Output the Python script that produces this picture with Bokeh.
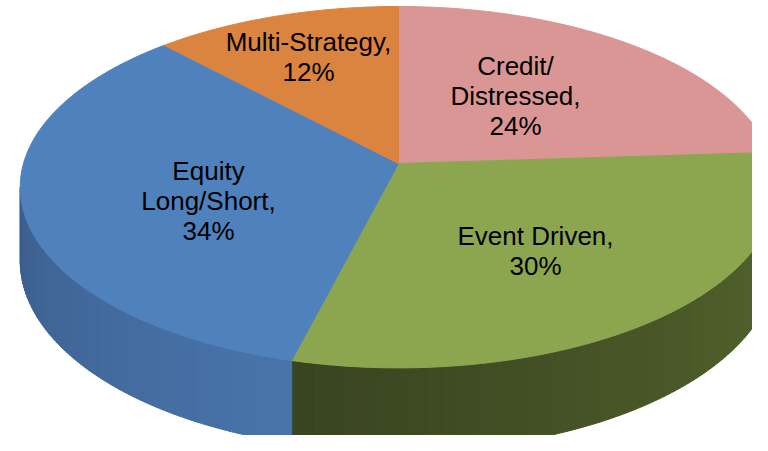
import numpy as np
from bokeh.plotting import figure
from bokeh.models import Range1d
from bokeh.embed import file_html
from bokeh.resources import INLINE
from bokeh.core.properties import value

# ---------------- data ----------------
categories = ["Credit/Distressed", "Event Driven", "Equity Long/Short", "Multi-Strategy"]
shares = [24, 30, 34, 12]
label_lines = [["Credit/", "Distressed,"], ["Event Driven,"], ["Equity", "Long/Short,"], ["Multi-Strategy,"]]

# ---------------- styles ----------------
top_colors = ["#d99694", "#8ca650", "#4f81bd", "#db843f"]
side_light = ["#b07472", "#56672e", "#4874ab", "#b06a33"]   # at the left end of a slice's side
side_dark = ["#8a5a58", "#394420", "#3c5e8c", "#8a5226"]    # at the right end

# label layout (centre x, first baseline y), in reference pixels
label_pos = [(515, 67), (535, 237), (208, 172), (308, 43)]
LINE_STEP = 30

# ---------------- 3D pie geometry ----------------
CX, CY = 398.0, 165.0
RX, RY = 375.0, 177.6
K = 0.131
DEPTH = 72.5


def proj(theta_deg, z=0.0):
    t = np.radians(theta_deg)
    u = np.sin(t)
    v = np.cos(t)
    s = 1.0 / (1.0 + K * v)
    return CX + RX * u * s, CY - RY * v * s + DEPTH * z * s


def mix(c1, c2, f):
    a = [int(c1[i:i + 2], 16) for i in (1, 3, 5)]
    b = [int(c2[i:i + 2], 16) for i in (1, 3, 5)]
    return "#%02x%02x%02x" % tuple(int(round(a[j] * (1 - f) + b[j] * f)) for j in range(3))


p = figure(width=752, height=435, x_range=Range1d(0, 752), y_range=Range1d(437, 2),
           output_backend="svg", toolbar_location=None, min_border=0)
p.axis.visible = False
p.grid.visible = False
p.outline_line_color = None
p.background_fill_color = "white"
p.border_fill_color = "white"

bounds = np.concatenate([[0], np.cumsum(shares)]) * 360.0 / sum(shares)
th_min = np.degrees(np.arccos(-K))
th_max = 360.0 - th_min

# side strips
sx, sy, sc = [], [], []
for i in range(len(shares)):
    a0, a1 = max(bounds[i], th_min), min(bounds[i + 1], th_max)
    if a1 <= a0:
        continue
    n = max(2, int(np.ceil((a1 - a0) / 1.0)))
    edges = np.linspace(a0, a1, n + 1)
    for j in range(n):
        t0, t1 = edges[j], edges[j + 1]
        ts = np.linspace(t0, t1, 3)
        xt, yt = proj(ts, 0.0)
        xb, yb = proj(ts[::-1], 1.0)
        sx.append(list(np.concatenate([xt, xb])))
        sy.append(list(np.concatenate([yt, yb])))
        f = (a1 - 0.5 * (t0 + t1)) / (a1 - a0)
        sc.append(mix(side_light[i], side_dark[i], 1 - f))
p.patches(sx, sy, fill_color=sc, line_color=sc, line_width=1)

# top faces
tx, ty = [], []
for i in range(len(shares)):
    ts = np.linspace(bounds[i], bounds[i + 1], int((bounds[i + 1] - bounds[i]) * 2) + 2)
    xa, ya = proj(ts, 0.0)
    tx.append([CX] + list(xa))
    ty.append([CY] + list(ya))
p.patches(tx, ty, fill_color=top_colors, line_color=top_colors, line_width=1)

# labels
lx, ly, lt = [], [], []
for i in range(len(shares)):
    x0, y0 = label_pos[i]
    lines = label_lines[i] + ["%d%%" % shares[i]]
    for j, s in enumerate(lines):
        lx.append(x0)
        ly.append(y0 + j * LINE_STEP)
        lt.append(s)
p.text(lx, ly, text=lt, text_font=value("Liberation Sans"), text_font_size="26px",
       text_align="center", text_baseline="alphabetic", text_color="black")

open("out.html", "w").write(file_html(p, INLINE))
